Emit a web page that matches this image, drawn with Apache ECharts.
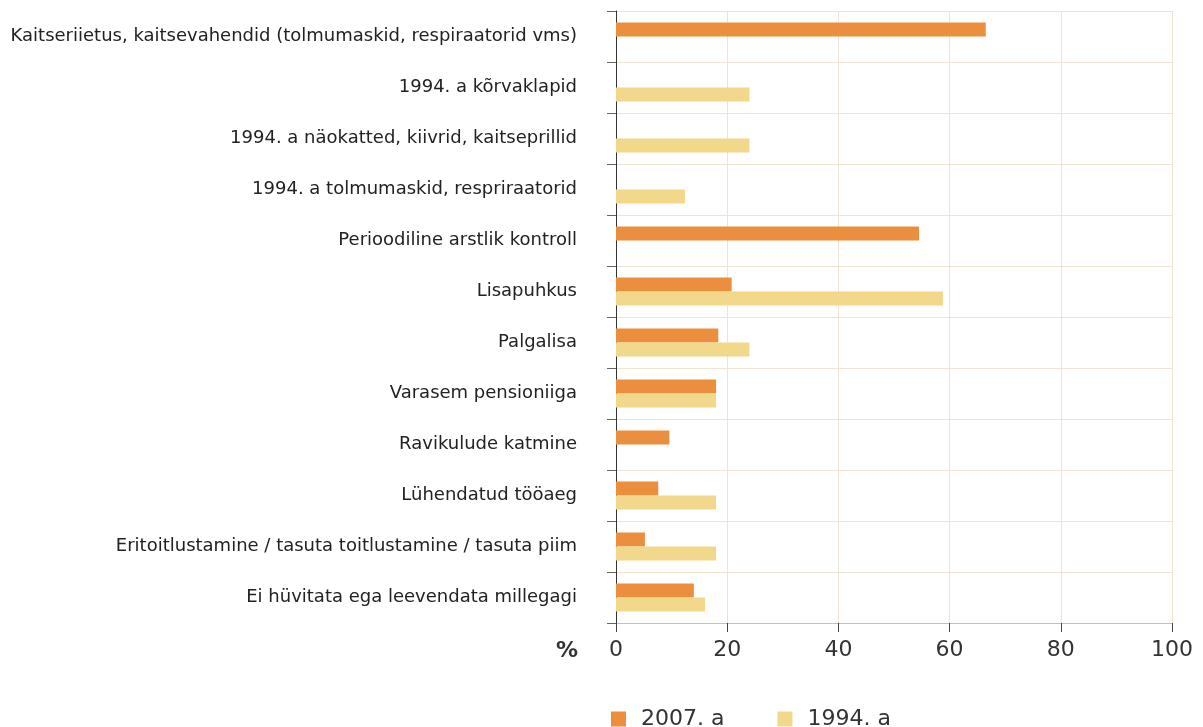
<!DOCTYPE html>
<html>
<head>
<meta charset="utf-8">
<script src="https://cdn.jsdelivr.net/npm/echarts@6/dist/echarts.min.js"></script>
<style>
  html, body { margin: 0; padding: 0; background: #fff; }
  #main { width: 1203px; height: 727px; }
</style>
</head>
<body>
<div id="main"></div>
<script>
var categories = [
    'Kaitseriietus, kaitsevahendid (tolmumaskid, respiraatorid vms)',
    '1994. a kõrvaklapid',
    '1994. a näokatted, kiivrid, kaitseprillid',
    '1994. a tolmumaskid, respriraatorid',
    'Perioodiline arstlik kontroll',
    'Lisapuhkus',
    'Palgalisa',
    'Varasem pensioniiga',
    'Ravikulude katmine',
    'Lühendatud tööaeg',
    'Eritoitlustamine / tasuta toitlustamine / tasuta piim',
    'Ei hüvitata ega leevendata millegagi'
];
var values2007 = [66.5, null, null, null, 54.5, 20.8, 18.4, 18.0, 9.6, 7.6, 5.2, 14.0];
var values1994 = [null, 24.0, 24.0, 12.4, null, 58.8, 24.0, 18.0, null, 18.0, 18.0, 16.0];
var seriesNames = ['2007. a', '1994. a'];

var chart = echarts.init(document.getElementById('main'));
chart.setOption({
    animation: false,
    grid: {left: 616, right: 31, top: 11, bottom: 104, containLabel: false},
    legend: {
        left: 606, top: 703, itemWidth: 15, itemHeight: 15, itemGap: 53,
        icon: 'rect',
        textStyle: {fontFamily: 'DejaVu Sans', fontSize: 22, color: '#333', padding: [0, 0, 0, 10]},
        data: seriesNames
    },
    xAxis: {
        type: 'value', min: 0, max: 100, interval: 20,
        name: '%', nameLocation: 'start', nameGap: 38,
        nameTextStyle: {fontFamily: 'DejaVu Sans', fontSize: 22, fontWeight: 'bold', color: '#333',
            verticalAlign: 'top', padding: [17, 0, 0, 0]},
        axisLine: {show: true, lineStyle: {color: '#c9c0b2', width: 1}},
        axisTick: {show: true, length: 9, lineStyle: {color: '#444'}},
        axisLabel: {fontFamily: 'DejaVu Sans', fontSize: 22, color: '#333', margin: 16},
        splitLine: {show: true, lineStyle: {color: '#efe4d4', width: 1}}
    },
    yAxis: {
        type: 'category', inverse: true, data: categories,
        axisLine: {show: true, lineStyle: {color: '#333', width: 1}},
        axisTick: {show: true, length: 9, lineStyle: {color: '#666'}},
        axisLabel: {fontFamily: 'DejaVu Sans', fontSize: 18, color: '#222', margin: 39},
        splitLine: {show: true, lineStyle: {color: '#efe4d4', width: 1}}
    },
    series: [
        {
            name: seriesNames[0], type: 'bar', data: values2007, barWidth: 14, barGap: '0%',
            itemStyle: {color: '#eb8f3f'}
        },
        {
            name: seriesNames[1], type: 'bar', data: values1994, barWidth: 14, barGap: '0%',
            itemStyle: {color: '#f2d88a'}
        }
    ]
});
</script>
</body>
</html>
